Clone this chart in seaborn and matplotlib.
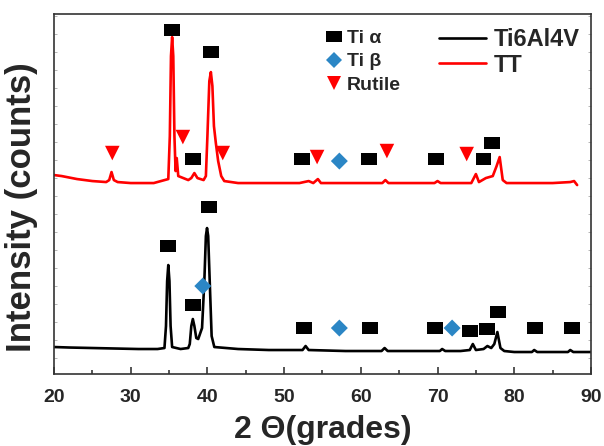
import pandas as pd
import seaborn as sns
import matplotlib.pyplot as plt
from matplotlib.lines import Line2D
from matplotlib.ticker import MultipleLocator

sns.set_theme(style="ticks")
plt.rcParams['font.family'] = ['Liberation Sans', 'DejaVu Sans']
plt.rcParams['font.weight'] = 'bold'

# Ti6Al4V pattern (2theta, intensity a.u.)
ti64_2theta = [20, 22, 25, 28, 31, 33.5, 34.4, 34.6, 34.75, 34.9, 35.05, 35.2, 35.4, 36.5, 37.5, 37.7,
               37.9, 38.1, 38.3, 38.55, 38.8, 39.3, 39.6, 39.8, 39.95, 40.1, 40.3, 40.55, 40.9, 44, 48,
               52.4, 52.8, 53.2, 58, 62.7, 63.1, 63.5, 68, 70.3, 70.6, 71, 73, 74.2, 74.6, 75.0, 76.0,
               76.5, 77.0, 77.4, 77.8, 78.2, 78.7, 80, 82.3, 82.6, 83, 87, 87.3, 87.7, 90]
ti64_int = [29, 28.5, 28, 27.5, 27, 27, 28, 50, 95, 111, 95, 50, 29, 27, 28, 32,
            50, 57, 50, 38, 37, 48, 95, 140, 148, 140, 95, 40, 29, 27, 26,
            26, 30, 26, 25, 25, 28, 25, 25, 25, 27, 25, 25, 26, 32, 26, 27,
            30, 28, 32, 44, 28, 25, 24, 24, 26, 24, 24, 26, 24, 24]

# heat treated (TT) pattern
tt_2theta = [20, 21, 23, 25, 26.8, 27.2, 27.5, 27.8, 28.3, 30, 33, 34.9, 35.1, 35.25, 35.4, 35.55,
             35.7, 35.85, 36.0, 36.2, 37.5, 37.9, 38.3, 38.7, 39.5, 39.8, 40.0, 40.25, 40.45, 40.65,
             40.85, 41.1, 41.4, 41.8, 42.2, 44, 48, 52, 53.2, 53.5, 53.8, 54.4, 54.8, 58, 62.8, 63.2,
             63.6, 69.6, 70, 70.4, 74.4, 75.0, 75.4, 76.3, 77.2, 77.7, 78.1, 78.5, 79, 82, 85, 87.3,
             87.8, 88.2]
tt_int = [201, 200, 197, 195, 194, 196, 204, 196, 194, 193, 193, 197, 240, 320, 339, 320,
          240, 205, 218, 200, 196, 198, 203, 198, 196, 200, 240, 295, 304, 290,
          250, 233, 215, 200, 195, 193, 193, 193, 195, 194, 193, 197, 193, 193, 193, 196,
          193, 193, 195, 193, 193, 202, 194, 198, 200, 210, 219, 196, 193, 193, 193, 194,
          195, 191]

# phase markers on each pattern
ti64_alpha_x = [34.9, 40.2, 38.1, 52.6, 61.2, 69.7, 74.2, 76.4, 77.9, 82.7, 87.5]
ti64_alpha_y = [130, 169, 71, 48, 48, 48, 45, 47, 64, 48, 48]
ti64_beta_x = [39.4, 57.2, 71.9]
ti64_beta_y = [90, 48, 48]

tt_alpha_x = [35.4, 40.5, 38.1, 52.3, 61.1, 69.8, 76.0, 77.1]
tt_alpha_y = [346, 324, 217, 217, 217, 217, 217, 233]
tt_beta_x = [57.2]
tt_beta_y = [215]
tt_rutile_x = [27.6, 36.8, 42.0, 54.3, 63.4, 73.8]
tt_rutile_y = [223, 239, 223, 219, 225, 222]

blue = '#2b86c5'
rect = [(-1, -0.72), (1, -0.72), (1, 0.72), (-1, 0.72), (-1, -0.72)]

fig = plt.figure(figsize=(6.04, 4.46), dpi=100)
ax = fig.add_axes([0.0894, 0.1614, 0.889, 0.807])

sns.lineplot(x=ti64_2theta, y=ti64_int, sort=False, color='black', linewidth=1.9, ax=ax)
sns.lineplot(x=tt_2theta, y=tt_int, sort=False, color='#ff0000', linewidth=1.9, ax=ax)

sns.scatterplot(x=ti64_alpha_x + tt_alpha_x, y=ti64_alpha_y + tt_alpha_y, marker=rect,
                s=130, color='black', edgecolor='none', ax=ax, zorder=3)
sns.scatterplot(x=ti64_beta_x + tt_beta_x, y=ti64_beta_y + tt_beta_y, marker='D',
                s=75, color=blue, edgecolor='none', ax=ax, zorder=3)
sns.scatterplot(x=tt_rutile_x, y=tt_rutile_y, marker='v',
                s=110, color='#ff0000', edgecolor='none', ax=ax, zorder=3)

ax.set_xlim(20, 90)
ax.set_ylim(2, 362)
ax.xaxis.set_major_locator(MultipleLocator(10))
ax.xaxis.set_minor_locator(MultipleLocator(5))
ax.yaxis.set_major_locator(MultipleLocator(18))
ax.tick_params(axis='x', which='major', direction='in', length=5, width=1.1, labelsize=14, pad=11)
ax.tick_params(axis='x', which='minor', direction='in', length=3, width=1.1)
ax.tick_params(axis='y', which='major', direction='in', length=2, width=0.6, left=True, right=True,
               labelleft=False, color='#aaaaaa')
for lab in ax.get_xticklabels():
    lab.set_fontweight('bold')
for sp in ax.spines.values():
    sp.set_linewidth(1.2)
    sp.set_color('#333333')

ax.set_xlabel('2 Θ(grades)', fontsize=23, fontweight='bold', labelpad=6)
ax.set_ylabel('Intensity (counts)', fontsize=25, fontweight='bold')
ax.yaxis.set_label_coords(-0.03, 0.464)

phase_handles = [
    Line2D([], [], linestyle='none', marker=rect, markersize=11, color='black', markeredgewidth=0),
    Line2D([], [], linestyle='none', marker='D', markersize=8, color=blue, markeredgewidth=0),
    Line2D([], [], linestyle='none', marker='v', markersize=10, color='#ff0000', markeredgewidth=0),
]
leg1 = ax.legend(phase_handles, ['Ti α', 'Ti β', 'Rutile'], loc='upper left',
                 bbox_to_anchor=(0.482, 0.99), frameon=False, handlelength=1.0,
                 handletextpad=0.15, labelspacing=0.3, borderaxespad=0.2,
                 prop={'weight': 'bold', 'size': 14})
ax.add_artist(leg1)
sample_handles = [Line2D([], [], color='black', linewidth=1.9),
                  Line2D([], [], color='#ff0000', linewidth=1.9)]
ax.legend(sample_handles, ['Ti6Al4V', 'TT'], loc='upper left', bbox_to_anchor=(0.69, 1.0),
          frameon=False, handlelength=2.0, handletextpad=0.35, labelspacing=0.1, borderaxespad=0.2,
          prop={'weight': 'bold', 'size': 17})

fig.savefig('out.png', dpi=100)
